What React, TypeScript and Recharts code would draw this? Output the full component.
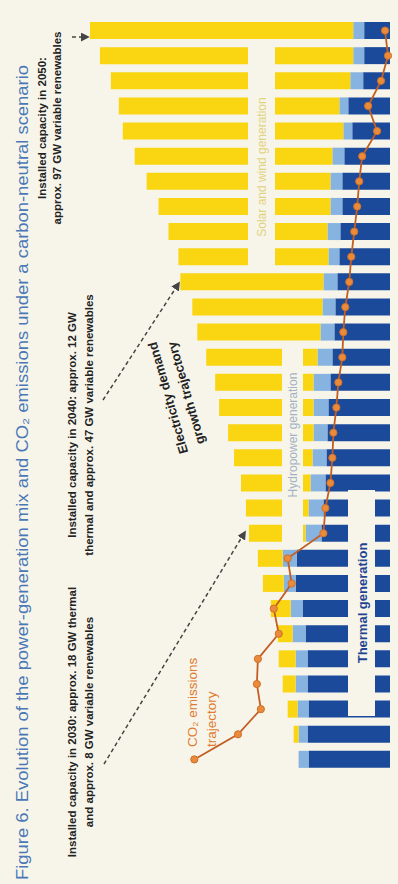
import React from 'react';
import { ComposedChart, Bar, Line, XAxis, YAxis } from 'recharts';

const years = [2021, 2022, 2023, 2024, 2025, 2026, 2027, 2028, 2029, 2030, 2031, 2032, 2033, 2034, 2035, 2036, 2037, 2038, 2039, 2040, 2041, 2042, 2043, 2044, 2045, 2046, 2047, 2048, 2049, 2050];
const thermal = [82, 83, 82, 83, 83, 85, 88, 95, 94, 69, 67, 65, 64, 63, 62, 60, 58, 56, 55, 53, 51, 50, 48, 48, 46, 38, 42, 27, 26, 26];
const hydro = [10, 9, 11, 12, 12, 13, 12, 12, 14, 16, 15, 15, 14, 14, 15, 17, 15, 14, 13, 14, 11, 13, 12, 12, 12, 9, 9, 13, 11, 11];
const solarWind = [0, 5, 10, 13, 17, 15, 20, 21, 25, 57, 63, 70, 79, 86, 95, 99, 112, 124, 131, 144, 151, 160, 173, 185, 199, 222, 222, 241, 255, 265];
const co2 = [197, 153, 130, 134, 133, 112, 117, 99, 103, 67, 65, 60, 58, 57, 54, 52, 48, 47, 45, 41, 39, 36, 33, 31, 28, 13, 22, 9, 2, 5];

const data = years.map((y, i) => ({ year: y, thermal: thermal[i], hydro: hydro[i], solar: solarWind[i], co2: co2[i] }));

const BG = '#f7f5ea';
const YELLOW = '#fad512';
const LIGHT = '#86b3df';
const DARK = '#1c4a9b';

const YearTick = (props: any) => {
  const { y, payload } = props;
  const tx = 397;
  return (
    <text x={tx} y={y} transform={`rotate(-90, ${tx}, ${y})`} textAnchor="middle" fontSize={9} fill="#b5b3a8" fontFamily="Liberation Sans, Arial, sans-serif">
      {payload.value}
    </text>
  );
};

const ann = { fontFamily: 'Liberation Sans, Arial, sans-serif', fontWeight: 700, fontSize: 11.5, fill: '#222' } as const;

export default function App() {
  return (
    <div style={{ position: 'absolute', left: 0, top: 0, width: 398, height: 884, background: BG, overflow: 'hidden' }}>
      <ComposedChart width={398} height={884} data={data} layout="vertical" margin={{ top: 18, bottom: 112, left: 90, right: 8 }}>
        <XAxis type="number" domain={[0, 300]} reversed hide />
        <YAxis type="category" dataKey="year" reversed orientation="right" width={0} axisLine={false} tickLine={false} interval={0} tick={<YearTick />} />
        <Bar dataKey="thermal" stackId="a" fill={DARK} barSize={17} isAnimationActive={false} />
        <Bar dataKey="hydro" stackId="a" fill={LIGHT} barSize={17} isAnimationActive={false} />
        <Bar dataKey="solar" stackId="a" fill={YELLOW} barSize={17} isAnimationActive={false} />
        <Line dataKey="co2" type="linear" stroke="#c25e22" strokeWidth={1.8} dot={{ r: 3.6, fill: '#e98b3a', stroke: '#d2702a', strokeWidth: 1 }} isAnimationActive={false} />
      </ComposedChart>
      <svg width={398} height={884} style={{ position: 'absolute', left: 0, top: 0, pointerEvents: 'none' }}>
        <defs>
          <marker id="ah" viewBox="0 0 10 10" refX="8" refY="5" markerWidth="6" markerHeight="6" orient="auto">
            <path d="M0,0 L10,5 L0,10 z" fill="#444" />
          </marker>
        </defs>
        {/* label boxes */}
        <rect x={248} y={46} width={27} height={224} fill={BG} />
        <rect x={282} y={343} width={21} height={204} fill={BG} />
        <rect x={348} y={490} width={27} height={226} fill={BG} />
        <text transform="translate(266,167) rotate(-90)" textAnchor="middle" fontSize={12} fill="#e2d27e" fontFamily="Liberation Sans, Arial, sans-serif">Solar and wind generation</text>
        <text transform="translate(297,435) rotate(-90)" textAnchor="middle" fontSize={12} fill="#a2b2c6" fontFamily="Liberation Sans, Arial, sans-serif">Hydropower generation</text>
        <text transform="translate(367,603) rotate(-90)" textAnchor="middle" fontSize={13} fontWeight={700} fill="#1f4393" fontFamily="Liberation Sans, Arial, sans-serif">Thermal generation</text>

        {/* title */}
        <text transform="translate(28,880) rotate(-90)" textAnchor="start" fontSize={16} fill="#4a78b6" fontFamily="Liberation Sans, Arial, sans-serif" textLength={815} lengthAdjust="spacingAndGlyphs">
          Figure 6. Evolution of the power-generation mix and CO₂ emissions under a carbon-neutral scenario
        </text>

        {/* annotations */}
        <text transform="translate(76,722) rotate(-90)" textAnchor="middle" {...ann}>Installed capacity in 2030: approx. 18 GW thermal</text>
        <text transform="translate(93,722) rotate(-90)" textAnchor="middle" {...ann}>and approx. 8 GW variable renewables</text>
        <text transform="translate(76,425) rotate(-90)" textAnchor="middle" {...ann}>Installed capacity in 2040: approx. 12 GW</text>
        <text transform="translate(93,425) rotate(-90)" textAnchor="middle" {...ann}>thermal and approx. 47 GW variable renewables</text>
        <text transform="translate(46,128) rotate(-90)" textAnchor="middle" {...ann}>Installed capacity in 2050:</text>
        <text transform="translate(61,128) rotate(-90)" textAnchor="middle" {...ann}>approx. 97 GW variable renewables</text>

        {/* electricity demand */}
        <text transform="translate(168,398) rotate(-106)" textAnchor="middle" dominantBaseline="central" fontSize={13} fontWeight={700} fill="#222" fontFamily="Liberation Sans, Arial, sans-serif">Electricity demand</text>
        <text transform="translate(186,393) rotate(-106)" textAnchor="middle" dominantBaseline="central" fontSize={13} fontWeight={700} fill="#222" fontFamily="Liberation Sans, Arial, sans-serif">growth trajectory</text>

        {/* CO2 label */}
        <text transform="translate(197,747) rotate(-90)" textAnchor="start" fontSize={13.5} fill="#e07a2e" fontFamily="Liberation Sans, Arial, sans-serif">CO₂ emissions</text>
        <text transform="translate(216,747) rotate(-90)" textAnchor="start" fontSize={13.5} fill="#e07a2e" fontFamily="Liberation Sans, Arial, sans-serif">trajectory</text>

        {/* dashed arrows */}
        <line x1={104} y1={764} x2={245} y2={532} stroke="#444" strokeWidth={1.5} strokeDasharray="4 3" markerEnd="url(#ah)" />
        <line x1={103} y1={400} x2={179} y2={283} stroke="#444" strokeWidth={1.5} strokeDasharray="4 3" markerEnd="url(#ah)" />
        <line x1={72} y1={37} x2={88} y2={37} stroke="#444" strokeWidth={1.5} strokeDasharray="4 3" markerEnd="url(#ah)" />
      </svg>
    </div>
  );
}
